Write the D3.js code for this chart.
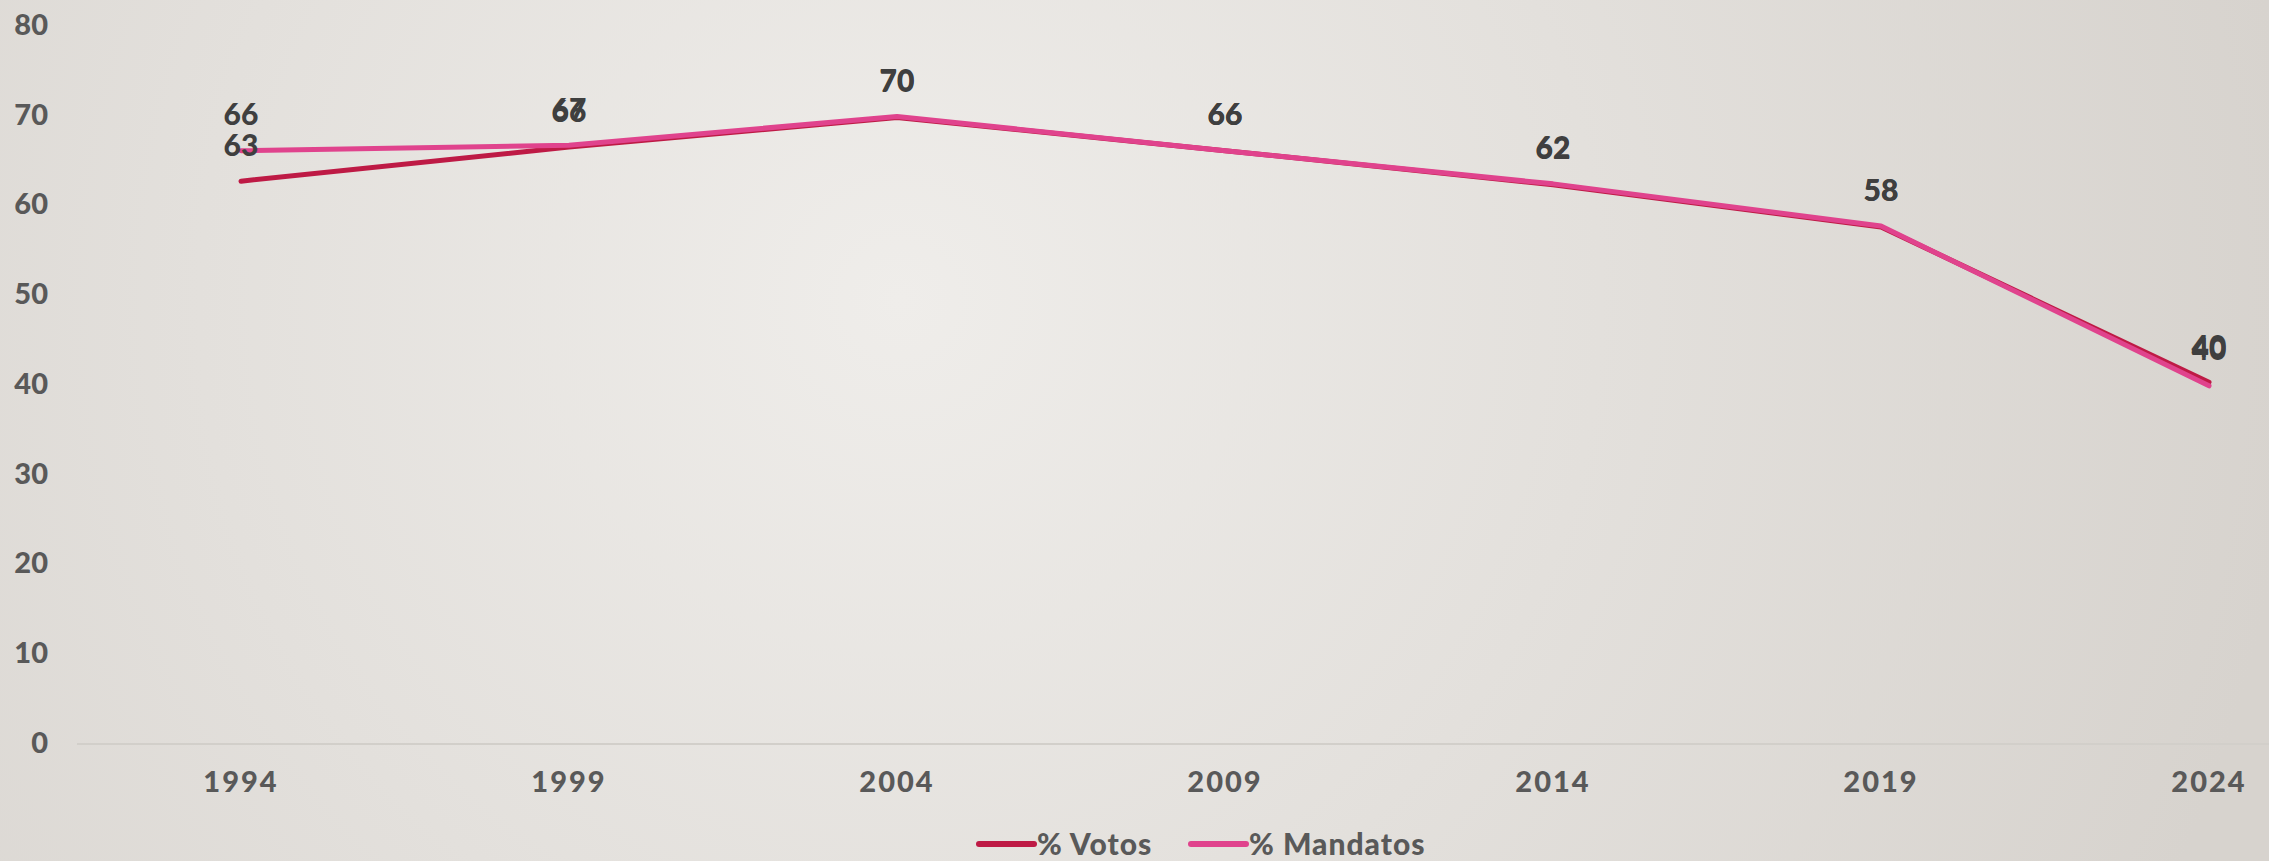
<!DOCTYPE html>
<html>
<head>
<meta charset="utf-8">
<script src="https://cdn.jsdelivr.net/npm/d3@7"></script>
<style>
  html, body { margin: 0; padding: 0; overflow: hidden; }
  svg { display: block; }
</style>
</head>
<body>
<div class="canvas"></div>
<script>
const years = ["1994", "1999", "2004", "2009", "2014", "2019", "2024"];
const votos = [62.6, 66.4, 69.7, 66.0, 62.2, 57.5, 40.2];
const mandatos = [66.0, 66.6, 69.8, 66.0, 62.3, 57.6, 39.8];
const yTicks = [0, 10, 20, 30, 40, 50, 60, 70, 80];

const width = 2269;
const height = 861;

const series = [
  { name: "% Votos", values: votos, color: "#be1a45" },
  { name: "% Mandatos", values: mandatos, color: "#e0438d" }
];

const svg = d3
  .select(".canvas")
  .append("svg")
  .attr("width", width)
  .attr("height", height);

// soft radial background
const grad = svg
  .append("defs")
  .append("radialGradient")
  .attr("id", "bg")
  .attr("gradientUnits", "userSpaceOnUse")
  .attr("cx", 900)
  .attr("cy", 300)
  .attr("r", 1400);
grad.append("stop").attr("offset", "0%").attr("stop-color", "#efedea");
grad.append("stop").attr("offset", "100%").attr("stop-color", "#d7d3ce");

svg
  .append("rect")
  .attr("width", width)
  .attr("height", height)
  .attr("fill", "url(#bg)");

const x = d3
  .scaleBand()
  .domain(years)
  .range([77, 77 + 7 * 328]);

const y = d3
  .scaleLinear()
  .domain([0, 80])
  .range([743, 25]);

const cx = d => x(d) + x.bandwidth() / 2;

// baseline
svg
  .append("line")
  .attr("x1", x.range()[0])
  .attr("x2", width)
  .attr("y1", y(0) + 1)
  .attr("y2", y(0) + 1)
  .attr("stroke", "#d2cfca")
  .attr("stroke-width", 2);

const yAxis = svg
  .append("g")
  .attr("transform", "translate(48,0)")
  .call(d3.axisLeft(y).tickValues(yTicks).tickSize(0).tickPadding(0));
yAxis.select(".domain").remove();
yAxis
  .selectAll("text")
  .attr("font-family", "Lato, 'Open Sans', sans-serif")
  .attr("font-weight", 900)
  .attr("font-size", 29)
  .attr("fill", "#595959");

const xAxis = svg
  .append("g")
  .attr("transform", `translate(0,${y(0)})`)
  .call(d3.axisBottom(x).tickSize(0).tickPadding(28));
xAxis.select(".domain").remove();
xAxis
  .selectAll("text")
  .attr("font-family", "Lato, 'Open Sans', sans-serif")
  .attr("font-weight", 900)
  .attr("font-size", 29)
  .attr("letter-spacing", 2)
  .attr("fill", "#595959");

const line = d3
  .line()
  .x((d, i) => cx(years[i]))
  .y(d => y(d));

svg
  .selectAll("path.series")
  .data(series)
  .enter()
  .append("path")
  .attr("class", "series")
  .attr("d", d => line(d.values))
  .attr("fill", "none")
  .attr("stroke", d => d.color)
  .attr("stroke-width", 5)
  .attr("stroke-linecap", "round")
  .attr("stroke-linejoin", "round");

// data labels
series.forEach(s => {
  svg
    .append("g")
    .selectAll("text")
    .data(s.values)
    .enter()
    .append("text")
    .attr("x", (d, i) => cx(years[i]))
    .attr("y", d => y(d) - 36)
    .attr("dy", "0.35em")
    .attr("text-anchor", "middle")
    .attr("font-family", "Lato, 'Open Sans', sans-serif")
    .attr("font-weight", 900)
    .attr("font-size", 30)
    .attr("fill", "#3f3f3f")
    .text(d => Math.round(d));
});

// legend
const legend = svg
  .append("g")
  .selectAll("g")
  .data(series)
  .enter()
  .append("g")
  .attr("transform", (d, i) => `translate(${979 + i * 212},844)`);

legend
  .append("line")
  .attr("x1", 0)
  .attr("x2", 55)
  .attr("stroke", d => d.color)
  .attr("stroke-width", 6)
  .attr("stroke-linecap", "round");

legend
  .append("text")
  .attr("x", 58)
  .attr("dy", "0.35em")
  .attr("font-family", "Lato, 'Open Sans', sans-serif")
  .attr("font-weight", 900)
  .attr("font-size", 30)
  .attr("letter-spacing", 1)
  .attr("fill", "#595959")
  .text(d => d.name);
</script>
</body>
</html>
